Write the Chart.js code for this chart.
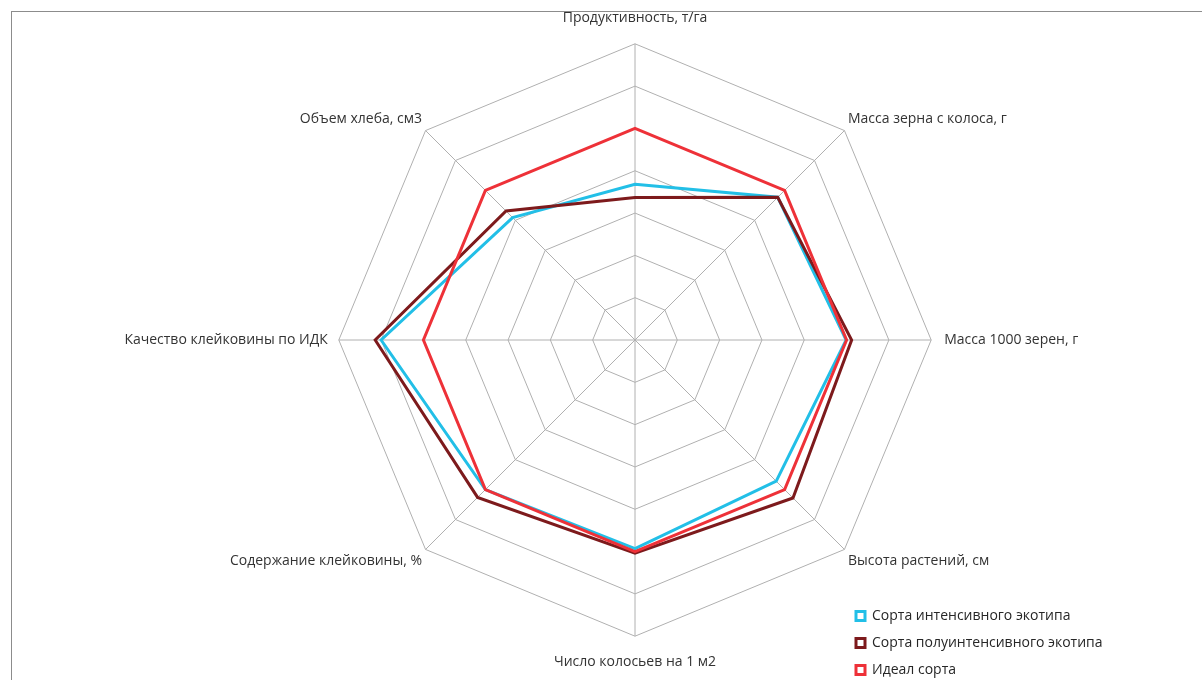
<!DOCTYPE html>
<html>
<head>
<meta charset="utf-8">
<script src="https://cdn.jsdelivr.net/npm/chart.js@4"></script>
<style>
  body { margin: 0; background: #fff; overflow: hidden; }
  #wrap { position: relative; width: 1202px; height: 680px; }
  #frame { position: absolute; left: 11px; top: 11px; width: 1200px; height: 700px; border: 1px solid #8c8c8c; box-sizing: border-box; }
  canvas { position: absolute; left: 0; top: 0; }
</style>
</head>
<body>
<div id="wrap">
  <div id="frame"></div>
  <canvas id="chartRadar" width="1202" height="680"></canvas>
</div>
<script>
const labels = [
  'Продуктивность, т/га',
  'Масса зерна с колоса, г',
  'Масса 1000 зерен, г',
  'Высота растений, см',
  'Число колосьев на 1 м2',
  'Содержание клейковины, %',
  'Качество клейковины по ИДК',
  'Объем хлеба, см3',
];

const seriesNames = [
  'Сорта интенсивного экотипа',
  'Сорта полуинтенсивного экотипа',
  'Идеал сорта',
];

const intensive = [3.68, 4.77, 4.99, 4.72, 4.93, 5.0, 6.0, 4.09];
const semiIntensive = [3.37, 4.77, 5.12, 5.28, 5.04, 5.26, 6.14, 4.31];
const ideal = [5, 5, 5, 5, 5, 5, 5, 5];

const colors = ['#22bfe7', '#7d1a1c', '#ee3138'];

// label distance from outer ring, per axis
const labelPadding = [17, 5, 13, 5, 17, 5, 11, 5];

const fontFamily = "'Open Sans', 'Noto Sans', sans-serif";

// put the legend in the lower right corner
const legendPlace = {
  id: 'legendPlace',
  afterLayout: (chart) => {
    const legend = chart.legend;
    legend.left = 843;
    legend.right = 1202;
    legend.top = 596;
    legend.bottom = 760;
    legend.width = legend.right - legend.left;
    legend.height = legend.bottom - legend.top;
  },
};

const chartRadar = document.querySelector('#chartRadar');

new Chart(chartRadar, {
  type: 'radar',
  data: {
    labels: labels,
    datasets: [
      { label: seriesNames[0], data: intensive, order: 3 },
      { label: seriesNames[1], data: semiIntensive, order: 2 },
      { label: seriesNames[2], data: ideal, order: 1 },
    ].map((ds, i) => ({
      ...ds,
      borderColor: colors[i],
      backgroundColor: '#ffffff',
      borderWidth: 3,
      fill: false,
      pointRadius: 0,
      pointHoverRadius: 0,
      tension: 0,
    })),
  },
  options: {
    responsive: false,
    animation: false,
    layout: {
      padding: { top: 10, bottom: 10, left: 69, right: 0 },
    },
    scales: {
      r: {
        min: 0,
        max: 7,
        ticks: { display: false, stepSize: 1 },
        grid: { color: '#b0b0b0', lineWidth: 1 },
        angleLines: { color: '#b0b0b0', lineWidth: 1 },
        pointLabels: {
          color: '#333333',
          font: { family: fontFamily, size: 14 },
          padding: (ctx) => labelPadding[ctx.index],
        },
      },
    },
    plugins: {
      legend: {
        position: 'chartArea',
        align: 'start',
        labels: {
          color: '#262626',
          font: { family: fontFamily, size: 14 },
          boxWidth: 9,
          boxHeight: 9,
          padding: 13,
          sort: (a, b) => a.datasetIndex - b.datasetIndex,
        },
      },
      tooltip: { enabled: false },
    },
  },
  plugins: [legendPlace],
});
</script>
</body>
</html>
